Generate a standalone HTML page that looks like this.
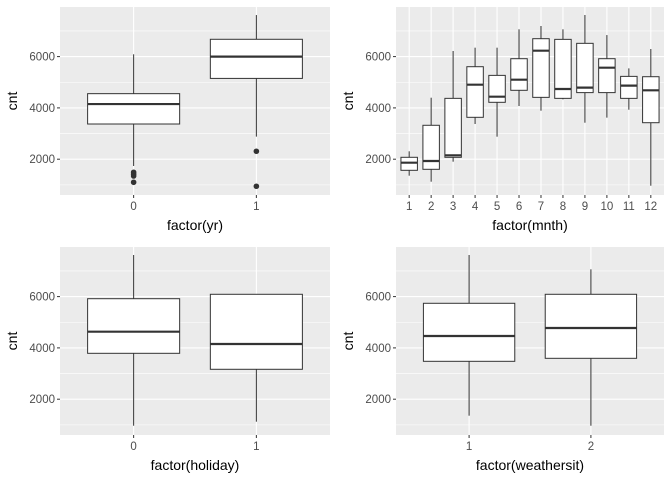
<!DOCTYPE html>
<html><head><meta charset="utf-8"><style>
body{margin:0;background:#fff;}
svg{display:block;font-family:"Liberation Sans",Arial,sans-serif;}
</style></head><body>
<svg id="c" width="672" height="480"></svg>
<script>
const yrCats=["0","1"];
const yrStats=[[1735,3372,4150,4555,6090],[2880,5150,6000,6675,7620]];
const yrOutliers=[[1490,1420,1345,1100],[2310,945]];
const mnthCats=["1","2","3","4","5","6","7","8","9","10","11","12"];
const mnthStats=[[1357,1567,1864,2074,2308],[1123,1606,1930,3322,4398],[1903,2074,2152,4372,6218],[3372,3633,4905,5606,6348],[2878,4218,4437,5268,6348],[4074,4686,5100,5918,7064],[3891,4411,6230,6698,7193],[4333,4372,4737,6672,7064],[3423,4596,4789,6517,7622],[3620,4596,5567,5918,6840],[3930,4372,4867,5229,5541],[966,3423,4686,5216,6296]];
const holCats=["0","1"];
const holStats=[[966,3789,4632,5918,7622],[1123,3166,4152,6090,6090]];
const wsCats=["1","2"];
const wsStats=[[1357,3477,4464,5739,7622],[966,3594,4776,6090,7064]];
const yTicks=[2000,4000,6000];
const yMinor=[1000,3000,5000,7000];

const svg=document.getElementById('c');
const NS='http://www.w3.org/2000/svg';
function mk(tag,attrs,parent){const e=document.createElementNS(NS,tag);for(const k in attrs)e.setAttribute(k,attrs[k]);parent.appendChild(e);return e;}

function panel(name,x0,x1,oy,cats,stats,outs,title){
  const g=mk('g',{},svg);
  
  
  const top=7+oy,bot=195+oy;
  const y=v=>oy+210.5-v*0.02565;
  const n=cats.length,w=x1-x0;
  const x=i=>x0+w*(i+0.6)/(n+0.2);
  const bw=w*0.75/(n+0.2);
  const bg=mk('rect',{x:x0,y:top,width:w,height:bot-top,fill:'#EBEBEB'},g);
  
  
  yMinor.forEach(v=>mk('line',{x1:x0,x2:x1,y1:y(v),y2:y(v),stroke:'#fff','stroke-width':0.55},g));
  yTicks.forEach(v=>{
    mk('line',{x1:x0,x2:x1,y1:y(v),y2:y(v),stroke:'#fff','stroke-width':1.1},g);
    mk('line',{x1:x0-3,x2:x0,y1:y(v),y2:y(v),stroke:'#333','stroke-width':1},g);
    const t=mk('text',{x:x0-5,y:y(v)+4,'text-anchor':'end','font-size':11.5,fill:'#4D4D4D'},g);
    t.textContent=v;
    
    
  });
  cats.forEach((c,i)=>{
    const cx=x(i);
    mk('line',{x1:cx,x2:cx,y1:top,y2:bot,stroke:'#fff','stroke-width':1.1},g);
    mk('line',{x1:cx,x2:cx,y1:bot,y2:bot+3,stroke:'#333','stroke-width':1},g);
    const t=mk('text',{x:cx,y:bot+15,'text-anchor':'middle','font-size':11.5,fill:'#4D4D4D'},g);
    t.textContent=c;
    
    
  });
  stats.forEach((s,i)=>{
    const cx=x(i);
    const bx=mk('g',{},g);
    
    
    mk('line',{x1:cx,x2:cx,y1:y(s[0]),y2:y(s[1]),stroke:'#333','stroke-width':1},bx);
    mk('line',{x1:cx,x2:cx,y1:y(s[3]),y2:y(s[4]),stroke:'#333','stroke-width':1},bx);
    mk('rect',{x:cx-bw/2,y:y(s[3]),width:bw,height:y(s[1])-y(s[3]),fill:'#fff',stroke:'#333','stroke-width':1},bx);
    mk('line',{x1:cx-bw/2,x2:cx+bw/2,y1:y(s[2]),y2:y(s[2]),stroke:'#333','stroke-width':2.2},bx);
    if(outs) outs[i].forEach(v=>{
      const p=mk('circle',{cx:cx,cy:y(v),r:2.8,fill:'#333'},bx);
      
      
    });
  });
  const yl=mk('text',{x:0,y:0,transform:`translate(${x0-43},${(top+bot)/2}) rotate(-90)`,'text-anchor':'middle','font-size':14,fill:'#000'},g);
  yl.textContent='cnt';
  
  
  const xl=mk('text',{x:(x0+x1)/2,y:bot+35,'text-anchor':'middle','font-size':14,fill:'#000'},g);
  xl.textContent=title;
  
  
}
panel('panel-yr',60,330,0,yrCats,yrStats,yrOutliers,'factor(yr)');
panel('panel-mnth',396,664,0,mnthCats,mnthStats,null,'factor(mnth)');
panel('panel-holiday',60,330,240,holCats,holStats,null,'factor(holiday)');
panel('panel-weathersit',396,664,240,wsCats,wsStats,null,'factor(weathersit)');
</script>
</body></html>
